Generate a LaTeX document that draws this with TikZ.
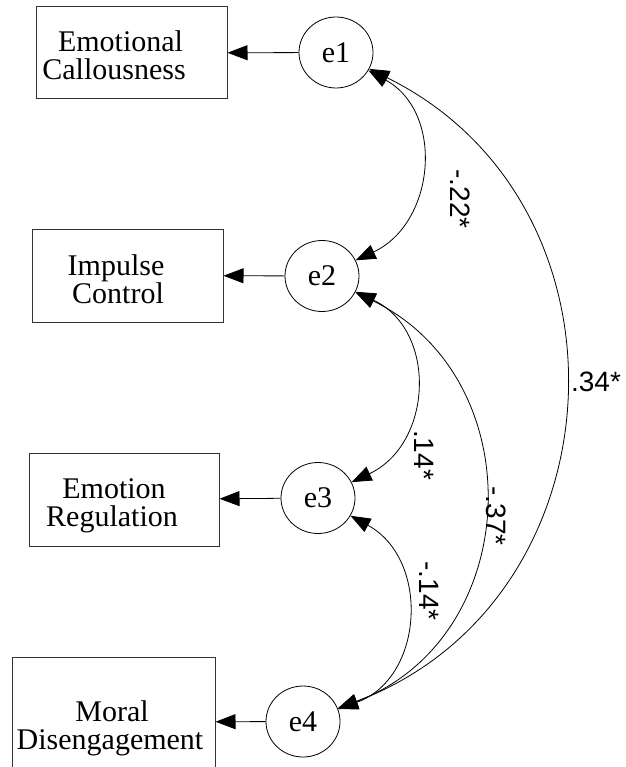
\documentclass[tikz,border=0pt]{standalone}
\usepackage{fontspec}
\setmainfont{Liberation Serif}
\newfontfamily\labfont{Liberation Sans}
\usetikzlibrary{arrows.meta,shapes.geometric}
\begin{document}
\begin{tikzpicture}[x=1pt,y=1pt,
  box/.style={draw=black!80,line width=1pt,rectangle,inner sep=0pt},
  err/.style={draw,ellipse,line width=0.8pt,minimum width=74pt,minimum height=71pt,inner sep=0pt,font=\fontsize{30}{30}\selectfont},
  txt/.style={anchor=base,inner sep=0pt,font=\fontsize{30}{30}\selectfont},
  coef/.style={inner sep=0pt,font=\labfont\fontsize{28}{28}\selectfont},
  arr/.style={line width=0.8pt,-{Triangle[length=20pt,width=15pt]}},
  cov/.style={line width=0.8pt,{Triangle[length=20pt,width=15pt]}-{Triangle[length=20pt,width=15pt]}}]
\useasboundingbox (0,0) rectangle (625,-767);

% observed variables
\node[box,minimum width=191pt,minimum height=92pt] (b1) at (131.5,-53) {};
\node[txt] (t1a) at (120.5,-52) {Emotional};
\node[txt] (t1b) at (114,-80) {Callousness};

\node[box,minimum width=191pt,minimum height=93pt] (b2) at (127.5,-275.5) {};
\node[txt] (t2a) at (116,-275) {Impulse};
\node[txt] (t2b) at (118,-303) {Control};

\node[box,minimum width=190pt,minimum height=93pt] (b3) at (124,-499.5) {};
\node[txt] (t3a) at (114,-498) {Emotion};
\node[txt] (t3b) at (112,-526) {Regulation};

\node[box,minimum width=203pt,minimum height=130pt] (b4) at (113.5,-722) {};
\node[txt] (t4a) at (112,-721) {Moral};
\node[txt] (t4b) at (110,-749) {Disengagement};

% error terms
\node[err] (e1) at (336,-52.5) {e1};
\node[err] (e2) at (322,-276) {e2};
\node[err] (e3) at (318,-498) {e3};
\node[err] (e4) at (303,-721.5) {e4};

% paths
\draw[arr] (e1) -- (b1);
\draw[arr] (e2) -- (b2);
\draw[arr] (e3) -- (b3);
\draw[arr] (e4) -- (b4);

% covariances
\draw[cov] (e1) to[out=-29,in=25,looseness=1.18] (e2);
\draw[cov] (e1) to[out=-26.3,in=20.7,looseness=1.22] (e4);
\draw[cov] (e2) to[out=-25.2,in=25.4,looseness=1.21] (e3);
\draw[cov] (e2) to[out=-26,in=20.7,looseness=1.22] (e4);
\draw[cov] (e3) to[out=-28.9,in=19.9,looseness=1.2] (e4);

% labels
\node[coef,rotate=-90] (l12) at (460,-199) {-.22*};
\node[coef,rotate=-90] (l23) at (424,-455) {.14*};
\node[coef,rotate=-90] (l24) at (496,-516) {-.37*};
\node[coef,rotate=-90] (l34) at (429,-591) {-.14*};
\node[coef] (l14) at (596,-382) {.34*};
\end{tikzpicture}
\end{document}
